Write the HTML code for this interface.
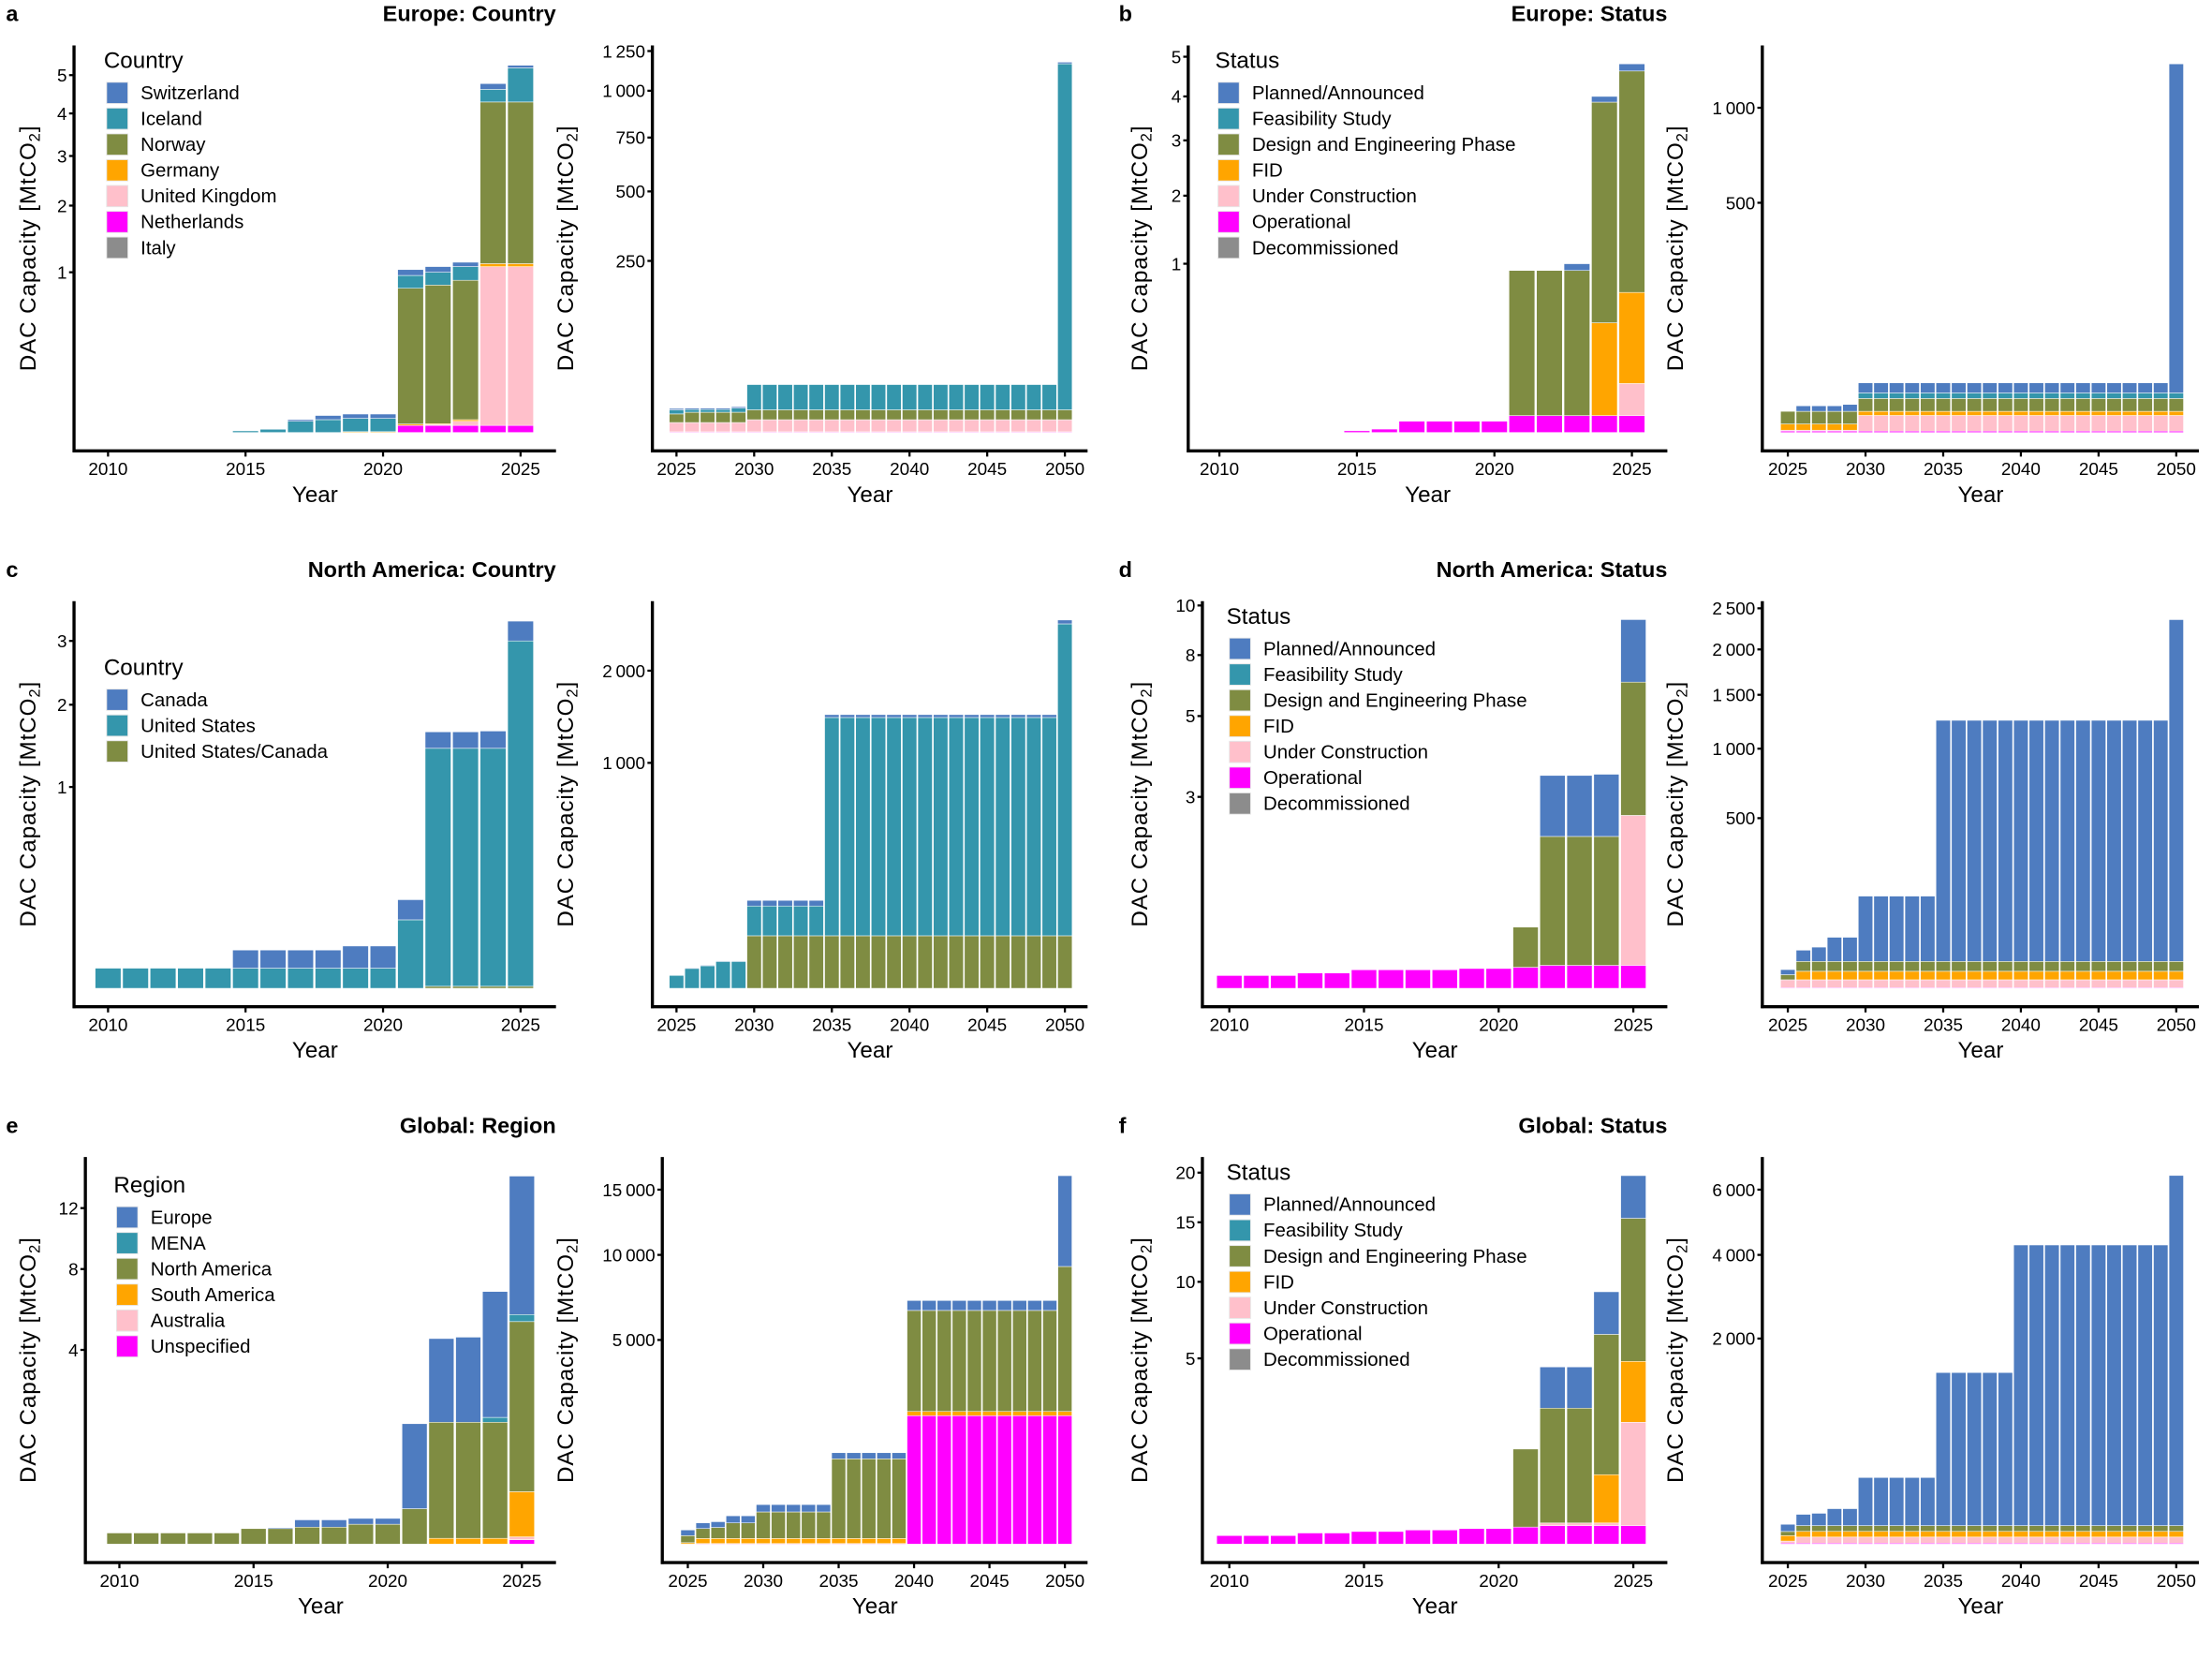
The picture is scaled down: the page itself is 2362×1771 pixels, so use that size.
<!DOCTYPE html>
<html><head><meta charset="utf-8">
<style>
html,body{margin:0;padding:0;background:#fff;}
svg{display:block;}
text{font-family:"Liberation Sans",sans-serif;fill:#000;}
.tick{font-family:"Liberation Sans Narrow","Liberation Sans",sans-serif;font-size:12.5px;}
.leg{font-family:"Liberation Sans Narrow","Liberation Sans",sans-serif;font-size:13.5px;}
.legt{font-family:"Liberation Sans Narrow","Liberation Sans",sans-serif;font-size:16px;}
.ttl{font-family:"Liberation Sans Narrow","Liberation Sans",sans-serif;font-size:15.5px;font-weight:bold;}
.axt{font-size:16px;letter-spacing:0.6px;}
</style></head>
<body>
<svg id="chart" xmlns="http://www.w3.org/2000/svg" width="2362" height="1771" viewBox="0 0 1560 1170"></svg>
<script>
const yearsHist = [2010,2011,2012,2013,2014,2015,2016,2017,2018,2019,2020,2021,2022,2023,2024,2025];
const yearsProj = [2025,2026,2027,2028,2029,2030,2031,2032,2033,2034,2035,2036,2037,2038,2039,2040,2041,2042,2043,2044,2045,2046,2047,2048,2049,2050];
const histTickYears = [2010,2015,2020,2025];
const projTickYears = [2025,2030,2035,2040,2045,2050];

const countryEuNames = ["Switzerland","Iceland","Norway","Germany","United Kingdom","Netherlands","Italy"];
const statusNames = ["Planned/Announced","Feasibility Study","Design and Engineering Phase","FID","Under Construction","Operational","Decommissioned"];
const countryNaNames = ["Canada","United States","United States/Canada"];
const regionNames = ["Europe","MENA","North America","South America","Australia","Unspecified"];

/* Panel a - Europe: Country (history) */
const aH_Switzerland = [0,0,0,0,0,0,0.003,0.01,0.026,0.027,0.027,0.06,0.085,0.065,0.15,0.07];
const aH_Iceland = [0,0,0,0,0,0.01,0.02,0.07,0.08,0.083,0.083,0.08,0.08,0.135,0.33,0.89];
const aH_Norway = [0,0,0,0,0,0,0,0,0,0,0,0.847,0.865,0.87,3.17,3.17];
const aH_Germany = [0,0,0,0,0,0,0,0,0,0.005,0.005,0.009,0.005,0.01,0.045,0.045];
const aH_UK = [0,0,0,0,0,0,0,0,0,0,0,0,0.006,0.026,1.04,1.04];
const aH_Netherlands = [0,0,0,0,0,0,0,0,0,0,0,0.044,0.044,0.044,0.044,0.044];
const aH_Italy = [0,0,0,0,0,0,0,0,0,0,0,0,0,0,0,0];
const aH_ticks = [1,2,3,4,5];
/* Panel a - projection */
const aP_Switzerland = [2,2,2,2,2,0.5,0.5,0.5,0.5,0.5,0.5,0.5,0.5,0.5,0.5,0.5,0.5,0.5,0.5,0.5,0.5,0.5,0.5,0.5,0.5,10];
const aP_Iceland = [6,4,4,4,6,37,37,37,37,37,37,37,37,37,37,37,37,37,37,37,37,37,37,37,37,1137];
const aP_Norway = [12.5,15,15,15,15,14.4,14.4,14.4,14.4,14.4,14.4,14.4,14.4,14.4,14.4,14.4,14.4,14.4,14.4,14.4,14.4,14.4,14.4,14.4,14.4,14.4];
const aP_Germany = [0,0,0,0,0,0,0,0,0,0,0,0,0,0,0,0,0,0,0,0,0,0,0,0,0,0];
const aP_UK = [13.5,13.5,13.5,13.5,13.5,17.6,17.6,17.6,17.6,17.6,17.6,17.6,17.6,17.6,17.6,17.6,17.6,17.6,17.6,17.6,17.6,17.6,17.6,17.6,17.6,17.6];
const aP_Netherlands = [1,1,1,1,1,1,1,1,1,1,1,1,1,1,1,1,1,1,1,1,1,1,1,1,1,1];
const aP_Italy = [0,0,0,0,0,0,0,0,0,0,0,0,0,0,0,0,0,0,0,0,0,0,0,0,0,0];
const aP_ticks = [250,500,750,1000,1250];

/* Panel b - Europe: Status */
const bH_Planned = [0,0,0,0,0,0,0,0,0,0,0,0,0,0.04,0.13,0.18];
const bH_Feasibility = [0,0,0,0,0,0,0,0,0,0,0,0,0,0,0,0];
const bH_Design = [0,0,0,0,0,0,0,0,0,0,0,0.86,0.86,0.86,3.22,3.81];
const bH_FID = [0,0,0,0,0,0,0,0,0,0,0,0,0,0,0.55,0.54];
const bH_UC = [0,0,0,0,0,0,0,0,0,0,0,0,0,0,0,0.19];
const bH_Operational = [0,0,0,0,0,0.01,0.02,0.067,0.067,0.067,0.067,0.1,0.1,0.1,0.1,0.1];
const bH_Decommissioned = [0,0,0,0,0,0,0,0,0,0,0,0,0,0,0,0];
const bH_ticks = [1,2,3,4,5];
const bP_Planned = [0,12,12,12,15,22,22,22,22,22,22,22,22,22,22,22,22,22,22,22,22,22,22,22,22,1145];
const bP_Feasibility = [0,0,0,0,0,12,12,12,12,12,12,12,12,12,12,12,12,12,12,12,12,12,12,12,12,12];
const bP_Design = [27.5,27.5,27.5,27.5,27.5,28,28,28,28,28,28,28,28,28,28,28,28,28,28,28,28,28,28,28,28,28];
const bP_FID = [13.5,13.5,13.5,13.5,13.5,9,9,9,9,9,9,9,9,9,9,9,9,9,9,9,9,9,9,9,9,9];
const bP_UC = [2,2,2,2,2,34,34,34,34,34,34,34,34,34,34,34,34,34,34,34,34,34,34,34,34,34];
const bP_Operational = [3,3,3,3,3,3,3,3,3,3,3,3,3,3,3,3,3,3,3,3,3,3,3,3,3,3];
const bP_Decommissioned = [0,0,0,0,0,0,0,0,0,0,0,0,0,0,0,0,0,0,0,0,0,0,0,0,0,0];
const bP_ticks = [500,1000];

/* Panel c - North America: Country */
const cH_Canada = [0,0,0,0,0,0.09,0.09,0.09,0.09,0.11,0.11,0.1,0.2,0.2,0.21,0.31];
const cH_US = [0.1,0.1,0.1,0.1,0.1,0.1,0.1,0.1,0.1,0.1,0.1,0.34,1.46,1.46,1.46,2.99];
const cH_USCanada = [0,0,0,0,0,0,0,0,0,0,0,0,0.01,0.01,0.01,0.01];
const cH_ticks = [1,2,3];
const cP_Canada = [0,3,3,3,3,25,25,25,25,25,31,31,31,31,31,31,31,31,31,31,31,31,31,31,31,42];
const cP_US = [57,88,100,119,119,132,132,132,132,132,1259,1259,1259,1259,1259,1259,1259,1259,1259,1259,1259,1259,1259,1259,1259,2275];
const cP_USCanada = [0,0,0,0,0,233,233,233,233,233,233,233,233,233,233,233,233,233,233,233,233,233,233,233,233,233];
const cP_ticks = [1000,2000];

/* Panel d - North America: Status */
const dH_Planned = [0,0,0,0,0,0,0,0,0,0,0,0,1.15,1.15,1.18,2.76];
const dH_Feasibility = [0,0,0,0,0,0,0,0,0,0,0,0,0,0,0,0];
const dH_Design = [0,0,0,0,0,0,0,0,0,0,0,0.63,2.02,2.02,2.02,3.96];
const dH_FID = [0,0,0,0,0,0,0,0,0,0,0,0,0,0,0,0];
const dH_UC = [0,0,0,0,0,0,0,0,0,0,0,0,0,0,0,2.35];
const dH_Operational = [0.2,0.2,0.2,0.24,0.24,0.29,0.29,0.29,0.29,0.31,0.31,0.33,0.36,0.36,0.36,0.36];
const dH_Decommissioned = [0,0,0,0,0,0,0,0,0,0,0,0,0,0,0,0];
const dH_ticks = [3,5,8,10];
const dP_Planned = [15,33,42,71,71,192,192,192,192,192,1184,1184,1184,1184,1184,1184,1184,1184,1184,1184,1184,1184,1184,1184,1184,2283];
const dP_Feasibility = [0,0,0,0,0,0,0,0,0,0,0,0,0,0,0,0,0,0,0,0,0,0,0,0,0,0];
const dP_Design = [15,29,29,29,29,29,29,29,29,29,29,29,29,29,29,29,29,29,29,29,29,29,29,29,29,29];
const dP_FID = [0,25,25,25,25,25,25,25,25,25,25,25,25,25,25,25,25,25,25,25,25,25,25,25,25,25];
const dP_UC = [23,23,23,23,23,23,23,23,23,23,23,23,23,23,23,23,23,23,23,23,23,23,23,23,23,23];
const dP_Operational = [2,2,2,2,2,2,2,2,2,2,2,2,2,2,2,2,2,2,2,2,2,2,2,2,2,2];
const dP_Decommissioned = [0,0,0,0,0,0,0,0,0,0,0,0,0,0,0,0,0,0,0,0,0,0,0,0,0,0];
const dP_ticks = [500,1000,1500,2000,2500];

/* Panel e - Global: Region */
const eH_Europe = [0,0,0,0,0,0,0.02,0.15,0.15,0.12,0.12,1.75,2.05,2.12,4.28,8.35];
const eH_MENA = [0,0,0,0,0,0,0,0,0,0,0,0,0,0,0.1,0.35];
const eH_NorthAmerica = [0.23,0.23,0.23,0.23,0.23,0.32,0.32,0.35,0.35,0.41,0.41,0.73,2.39,2.39,2.39,4.32];
const eH_SouthAmerica = [0,0,0,0,0,0,0,0,0,0,0,0,0.12,0.12,0.12,0.93];
const eH_Australia = [0,0,0,0,0,0,0,0,0,0,0,0,0,0,0,0.06];
const eH_Unspecified = [0,0,0,0,0,0,0,0,0,0,0,0,0,0,0,0.09];
const eH_ticks = [4,8,12];
const eP_Europe = [139,138,140,174,174,180,180,180,180,180,150,150,150,150,150,583,583,583,583,583,583,583,583,583,583,6754];
const eP_MENA = [0,0,0,0,0,0,0,0,0,0,0,0,0,0,0,0,0,0,0,0,0,0,0,0,0,0];
const eP_NorthAmerica = [173,243,270,381,381,650,650,650,650,650,1950,1950,1950,1950,1950,3486,3486,3486,3486,3486,3486,3486,3486,3486,3486,6069];
const eP_SouthAmerica = [35,124,124,124,124,124,124,124,124,124,124,124,124,124,124,104,104,104,104,104,104,104,104,104,104,104];
const eP_Australia = [0,0,0,0,0,0,0,0,0,0,0,0,0,0,0,0,0,0,0,0,0,0,0,0,0,0];
const eP_Unspecified = [0,15,15,15,15,15,15,15,15,15,15,15,15,15,15,3145,3145,3145,3145,3145,3145,3145,3145,3145,3145,3145];
const eP_ticks = [5000,10000,15000];

/* Panel f - Global: Status */
const fH_Planned = [0,0,0,0,0,0,0,0,0,0,0,0,1.11,1.11,2.78,4.3];
const fH_Feasibility = [0,0,0,0,0,0,0,0,0,0,0,0,0,0,0,0];
const fH_Design = [0,0,0,0,0,0,0,0,0,0,0,2.1,3.09,3.09,4.7,10.48];
const fH_FID = [0,0,0,0,0,0,0,0,0,0,0,0,0,0,1.3,1.64];
const fH_UC = [0,0,0,0,0,0,0,0,0,0,0,0,0.07,0.07,0.07,2.78];
const fH_Operational = [0.23,0.23,0.23,0.3,0.3,0.34,0.34,0.38,0.38,0.42,0.42,0.46,0.5,0.5,0.5,0.5];
const fH_Decommissioned = [0,0,0,0,0,0,0,0,0,0,0,0,0,0,0,0];
const fH_ticks = [5,10,15,20];
const fP_Planned = [70,110,120,165,165,468,468,468,468,468,1489,1489,1489,1489,1489,4124,4124,4124,4124,4124,4124,4124,4124,4124,4124,6255];
const fP_Feasibility = [0,0,0,0,0,0,0,0,0,0,0,0,0,0,0,0,0,0,0,0,0,0,0,0,0,0];
const fP_Design = [40,56,56,56,56,56,56,56,56,56,56,56,56,56,56,56,56,56,56,56,56,56,56,56,56,56];
const fP_FID = [53,55,55,55,55,55,55,55,55,55,55,55,55,55,55,55,55,55,55,55,55,55,55,55,55,55];
const fP_UC = [20,59,59,59,59,59,59,59,59,59,59,59,59,59,59,59,59,59,59,59,59,59,59,59,59,59];
const fP_Operational = [10,10,10,10,10,10,10,10,10,10,10,10,10,10,10,10,10,10,10,10,10,10,10,10,10,10];
const fP_Decommissioned = [0,0,0,0,0,0,0,0,0,0,0,0,0,0,0,0,0,0,0,0,0,0,0,0,0,0];
const fP_ticks = [2000,4000,6000];

const C = {blue:"#4e7cc0",teal:"#3496ac",green:"#7f8c42",orange:"#ffa500",pink:"#ffc0cb",mag:"#ff00ff",gray:"#8c8c8c"};
const NS = "http://www.w3.org/2000/svg";
const svg = document.getElementById("chart");

function mk(tag, attrs, parent, txt){
  const e = document.createElementNS(NS, tag);
  for (const k in attrs) e.setAttribute(k, attrs[k]);
  if (txt !== undefined) e.textContent = txt;
  (parent || svg).appendChild(e);
  return e;
}
function makeY(cal){
  return function(v){
    for (let i = 1; i < cal.length; i++){
      if (v <= cal[i][0] || i === cal.length - 1){
        const a = cal[i-1], b = cal[i];
        return a[1] + (v - a[0]) * (b[1] - a[1]) / (b[0] - a[0]);
      }
    }
  };
}
function fmt(n){ return n >= 1000 ? String(n).replace(/\B(?=(\d{3})+(?!\d))/g, "\u2009") : String(n); }

function drawPlot(p){
  const g = mk("g", {});
  
  
  const y = makeY(p.cal);
  const x = yr => p.x0 + (yr - p.years[0]) * p.step;
  p.years.forEach((yr, i) => {
    let cum = 0;
    p.series.forEach(s => {
      const v = s.vals[i];
      if (v <= 0) return;
      const yb = y(cum), yt = y(cum + v);
      cum += v;
      const r = mk("rect", {x: x(yr) - p.bw/2, y: yt, width: p.bw, height: Math.max(yb - yt, 0.3), fill: s.color, stroke: "#fff", "stroke-width": 0.35}, g);
      
      
    });
  });
  const ax = mk("g", {}, g);
  
  
  mk("line", {x1: p.ax, y1: p.top, x2: p.ax, y2: p.xa + 1, stroke: "#000", "stroke-width": 2.2}, ax);
  mk("line", {x1: p.ax - 1, y1: p.xa, x2: p.right, y2: p.xa, stroke: "#000", "stroke-width": 2.2}, ax);
  p.ticks.forEach(t => {
    const ty = y(t);
    mk("line", {x1: p.ax - 3.5, y1: ty, x2: p.ax, y2: ty, stroke: "#000", "stroke-width": 1.5}, ax);
    const tl = mk("text", {x: p.ax - 5, y: ty + 4.5, "text-anchor": "end", class: "tick"}, ax, fmt(t));
    
    
  });
  p.xticks.forEach(t => {
    const tx = x(t);
    mk("line", {x1: tx, y1: p.xa, x2: tx, y2: p.xa + 4, stroke: "#000", "stroke-width": 1.5}, ax);
    const tl = mk("text", {x: tx, y: p.xa + 17, "text-anchor": "middle", class: "tick"}, ax, String(t));
    
    
  });
  const xt = mk("text", {x: (p.ax + p.right) / 2, y: p.xa + 36, "text-anchor": "middle", class: "legt"}, ax, "Year");
  
  
  const cy = (p.top + p.xa) / 2;
  const yt = mk("text", {x: 0, y: 0, "text-anchor": "middle", class: "axt", transform: `translate(${p.ytx},${cy}) rotate(-90)`}, ax);
  
  
  yt.innerHTML = 'DAC Capacity [MtCO<tspan font-size="11" dy="3">2</tspan><tspan dy="-3">]</tspan>';
  if (p.legend){
    const L = p.legend;
    const lg = mk("g", {}, g);
    
    
    mk("text", {x: L.x - 2, y: L.y, class: "legt"}, lg, L.title);
    L.items.forEach((it, k) => {
      const ky = L.y + 10 + k * 18.2;
      const e = mk("g", {}, lg);
      
      
      mk("rect", {x: L.x, y: ky, width: 15, height: 15, fill: it.color, stroke: "#e6e6e6", "stroke-width": 0.6}, e);
      mk("text", {x: L.x + 24, y: ky + 12, class: "leg"}, e, it.name);
    });
  }
}

function series(keys, names, colors, arrs){
  const out = [];
  for (let i = names.length - 1; i >= 0; i--) out.push({key: keys[i], color: colors[i], vals: arrs[i]});
  return out;
}
const euColors = [C.blue,C.teal,C.green,C.orange,C.pink,C.mag,C.gray];
const stColors = [C.blue,C.teal,C.green,C.orange,C.pink,C.mag,C.gray];
const naColors = [C.blue,C.teal,C.green];
const rgColors = [C.blue,C.teal,C.green,C.orange,C.pink,C.mag];
const euKeys = ["switzerland","iceland","norway","germany","uk","netherlands","italy"];
const stKeys = ["planned","feasibility","design","fid","under-construction","operational","decommissioned"];
const naKeys = ["canada","united-states","us-canada"];
const rgKeys = ["europe","mena","north-america","south-america","australia","unspecified"];

function legendOf(title, names, colors, x, y){
  return {title, x, y, items: names.map((n, i) => ({name: n, color: colors[i]}))};
}

function title(txt, x, y, letter, lx){
  const t = mk("text", {x, y, "text-anchor": "end", class: "ttl"}, svg, txt);
  
  
  const l = mk("text", {x: lx, y, class: "ttl"}, svg, letter);
  
  
}

const rows = [{top: 32, xa: 318, z: 305}, {top: 424, xa: 710, z: 697}, {top: 816, xa: 1102, z: 1089}];

title("Europe: Country", 392, 15, "a", 4);
drawPlot({name: "europe-country-history", years: yearsHist, x0: 76, step: 19.4, bw: 18.2, ax: 52, right: 392, top: rows[0].top, xa: rows[0].xa, ytx: 25,
  cal: [[0,305],[1,192],[2,145],[3,110],[4,80],[5,53]], ticks: aH_ticks, xticks: histTickYears,
  series: series(euKeys, countryEuNames, euColors, [aH_Switzerland,aH_Iceland,aH_Norway,aH_Germany,aH_UK,aH_Netherlands,aH_Italy]),
  legend: legendOf("Country", countryEuNames, euColors, 75, 48)});
drawPlot({name: "europe-country-projection", years: yearsProj, x0: 477, step: 10.96, bw: 10.2, ax: 460, right: 767, top: rows[0].top, xa: rows[0].xa, ytx: 404,
  cal: [[0,305],[250,184],[500,135],[750,97],[1000,64],[1250,36]], ticks: aP_ticks, xticks: projTickYears,
  series: series(euKeys, countryEuNames, euColors, [aP_Switzerland,aP_Iceland,aP_Norway,aP_Germany,aP_UK,aP_Netherlands,aP_Italy])});
title("Europe: Status", 1176, 15, "b", 789);
drawPlot({name: "europe-status-history", years: yearsHist, x0: 860, step: 19.4, bw: 18.2, ax: 838, right: 1176, top: rows[0].top, xa: rows[0].xa, ytx: 809,
  cal: [[0,305],[1,186],[2,138],[3,99],[4,68],[5,40]], ticks: bH_ticks, xticks: histTickYears,
  series: series(stKeys, statusNames, stColors, [bH_Planned,bH_Feasibility,bH_Design,bH_FID,bH_UC,bH_Operational,bH_Decommissioned]),
  legend: legendOf("Status", statusNames, stColors, 859, 48)});
drawPlot({name: "europe-status-projection", years: yearsProj, x0: 1261, step: 10.96, bw: 10.2, ax: 1243, right: 1551, top: rows[0].top, xa: rows[0].xa, ytx: 1187,
  cal: [[0,305],[500,143],[1000,76]], ticks: bP_ticks, xticks: projTickYears,
  series: series(stKeys, statusNames, stColors, [bP_Planned,bP_Feasibility,bP_Design,bP_FID,bP_UC,bP_Operational,bP_Decommissioned])});
title("North America: Country", 392, 407, "c", 4);
drawPlot({name: "north-america-country-history", years: yearsHist, x0: 76, step: 19.4, bw: 18.2, ax: 52, right: 392, top: rows[1].top, xa: rows[1].xa, ytx: 25,
  cal: [[0,697],[1,555],[2,497],[3,452]], ticks: cH_ticks, xticks: histTickYears,
  series: series(naKeys, countryNaNames, naColors, [cH_Canada,cH_US,cH_USCanada]),
  legend: legendOf("Country", countryNaNames, naColors, 75, 476)});
drawPlot({name: "north-america-country-projection", years: yearsProj, x0: 477, step: 10.96, bw: 10.2, ax: 460, right: 767, top: rows[1].top, xa: rows[1].xa, ytx: 404,
  cal: [[0,697],[1000,538],[2000,473]], ticks: cP_ticks, xticks: projTickYears,
  series: series(naKeys, countryNaNames, naColors, [cP_Canada,cP_US,cP_USCanada])});
title("North America: Status", 1176, 407, "d", 789);
drawPlot({name: "north-america-status-history", years: yearsHist, x0: 867, step: 19.0, bw: 17.8, ax: 848, right: 1176, top: rows[1].top, xa: rows[1].xa, ytx: 809,
  cal: [[0,697],[3,562],[5,505],[8,462],[10,427]], ticks: dH_ticks, xticks: histTickYears,
  series: series(stKeys, statusNames, stColors, [dH_Planned,dH_Feasibility,dH_Design,dH_FID,dH_UC,dH_Operational,dH_Decommissioned]),
  legend: legendOf("Status", statusNames, stColors, 867, 440)});
drawPlot({name: "north-america-status-projection", years: yearsProj, x0: 1261, step: 10.96, bw: 10.2, ax: 1243, right: 1551, top: rows[1].top, xa: rows[1].xa, ytx: 1187,
  cal: [[0,697],[500,577],[1000,528],[1500,490],[2000,458],[2500,429]], ticks: dP_ticks, xticks: projTickYears,
  series: series(stKeys, statusNames, stColors, [dP_Planned,dP_Feasibility,dP_Design,dP_FID,dP_UC,dP_Operational,dP_Decommissioned])});
title("Global: Region", 392, 799, "e", 4);
drawPlot({name: "global-region-history", years: yearsHist, x0: 84, step: 18.93, bw: 17.7, ax: 60, right: 392, top: rows[2].top, xa: rows[2].xa, ytx: 25,
  cal: [[0,1089],[4,952],[8,895],[12,852]], ticks: eH_ticks, xticks: histTickYears,
  series: series(rgKeys, regionNames, rgColors, [eH_Europe,eH_MENA,eH_NorthAmerica,eH_SouthAmerica,eH_Australia,eH_Unspecified]),
  legend: legendOf("Region", regionNames, rgColors, 82, 841)});
drawPlot({name: "global-region-projection", years: yearsProj, x0: 485, step: 10.64, bw: 9.9, ax: 467, right: 767, top: rows[2].top, xa: rows[2].xa, ytx: 404,
  cal: [[0,1089],[5000,945],[10000,885],[15000,839]], ticks: eP_ticks, xticks: projTickYears,
  series: series(rgKeys, regionNames, rgColors, [eP_Europe,eP_MENA,eP_NorthAmerica,eP_SouthAmerica,eP_Australia,eP_Unspecified])});
title("Global: Status", 1176, 799, "f", 789);
drawPlot({name: "global-status-history", years: yearsHist, x0: 867, step: 19.0, bw: 17.8, ax: 848, right: 1176, top: rows[2].top, xa: rows[2].xa, ytx: 809,
  cal: [[0,1089],[5,958],[10,904],[15,862],[20,827]], ticks: fH_ticks, xticks: histTickYears,
  series: series(stKeys, statusNames, stColors, [fH_Planned,fH_Feasibility,fH_Design,fH_FID,fH_UC,fH_Operational,fH_Decommissioned]),
  legend: legendOf("Status", statusNames, stColors, 867, 832)});
drawPlot({name: "global-status-projection", years: yearsProj, x0: 1261, step: 10.96, bw: 10.2, ax: 1243, right: 1551, top: rows[2].top, xa: rows[2].xa, ytx: 1187,
  cal: [[0,1089],[2000,944],[4000,885],[6000,839]], ticks: fP_ticks, xticks: projTickYears,
  series: series(stKeys, statusNames, stColors, [fP_Planned,fP_Feasibility,fP_Design,fP_FID,fP_UC,fP_Operational,fP_Decommissioned])});
</script>
</body></html>
